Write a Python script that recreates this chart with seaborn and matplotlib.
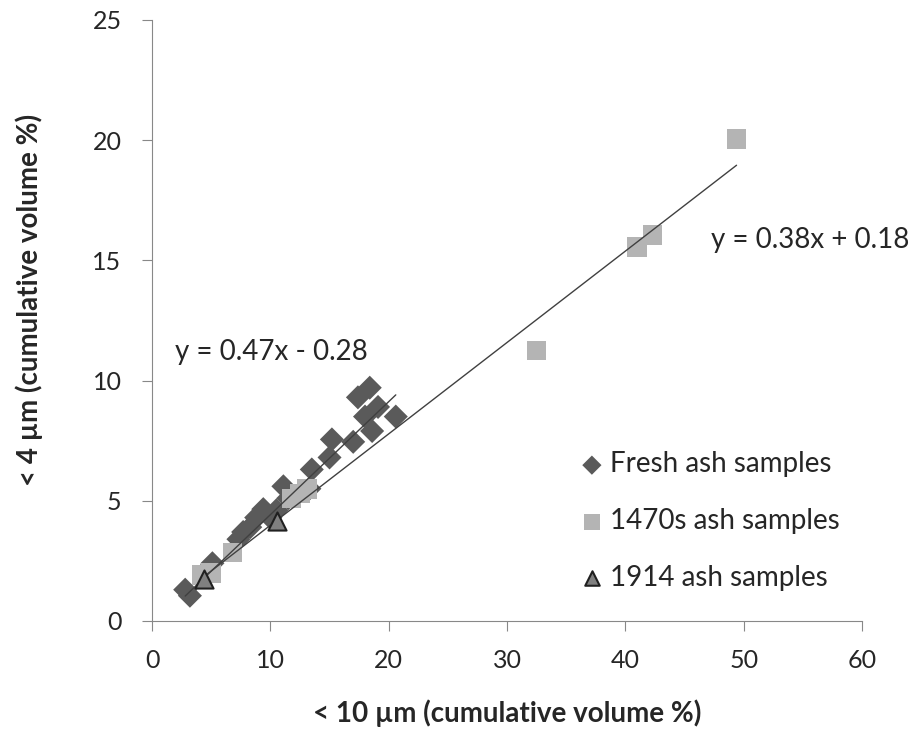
import matplotlib
matplotlib.use("Agg")
import matplotlib.pyplot as plt
import seaborn as sns
import numpy as np

# data
fresh_x = [2.8, 3.2, 4.6, 5.1, 7.3, 7.7, 8.3, 8.8, 9.4, 10.0, 10.5, 11.1, 11.5,
           13.3, 13.5, 15.0, 15.2, 17.0, 17.4, 18.0, 18.4, 18.6, 19.1, 20.6]
fresh_y = [1.3, 1.05, 2.1, 2.4, 3.4, 3.7, 3.9, 4.3, 4.65, 4.3, 4.6, 5.6, 5.1,
           5.5, 6.3, 6.8, 7.55, 7.45, 9.3, 8.5, 9.7, 7.9, 8.9, 8.5]
old_x = [4.2, 5.0, 6.8, 11.8, 12.5, 13.1, 32.5, 41.0, 42.3, 49.4]
old_y = [1.9, 2.0, 2.85, 5.1, 5.3, 5.5, 11.25, 15.55, 16.05, 20.05]
tri_x = [4.4, 10.6]
tri_y = [1.75, 4.15]

# trend lines as printed on the chart
fresh_fit = (0.47, -0.28)
old_fit = (0.38, 0.18)
fresh_label = "y = 0.47x - 0.28"
old_label = "y = 0.38x + 0.18"

sns.set_style("ticks")
plt.rcParams['font.family'] = ['Lato', 'DejaVu Sans']

fig = plt.figure(figsize=(9.16, 7.34), dpi=100)
ax = fig.add_axes([0.166, 0.154, 0.775, 0.819])

# fit lines over the data range of each series
fx = np.array([min(fresh_x), max(fresh_x)])
ox = np.array([min(old_x), max(old_x)])
sns.lineplot(x=fx, y=fresh_fit[0] * fx + fresh_fit[1], ax=ax, color="#404040",
             linewidth=1, zorder=4)
sns.lineplot(x=ox, y=old_fit[0] * ox + old_fit[1], ax=ax, color="#404040",
             linewidth=1, zorder=4)

sns.scatterplot(x=fresh_x, y=fresh_y, ax=ax, marker="D", s=150, color="#5a5a5a",
                edgecolor="none", label="Fresh ash samples", zorder=2)
sns.scatterplot(x=old_x, y=old_y, ax=ax, marker="s", s=200, color="#b4b4b4",
                edgecolor="none", label="1470s ash samples", zorder=3)
sns.scatterplot(x=tri_x, y=tri_y, ax=ax, marker="^", s=170, color="#808080",
                edgecolor="#202020", linewidth=1.5, label="1914 ash samples", zorder=5)

ax.text(1.9, 11.2, fresh_label, fontsize=20, va="center", ha="left")
ax.text(47.2, 15.85, old_label, fontsize=20, va="center", ha="left", clip_on=False)

ax.set_xlim(0, 60)
ax.set_ylim(0, 25)
ax.set_xticks(range(0, 61, 10))
ax.set_yticks(range(0, 26, 5))
ax.tick_params(labelsize=18, length=7, color="#888888")
ax.tick_params(axis="x", pad=13)
ax.tick_params(axis="y", pad=15)
for s in ["left", "bottom"]:
    ax.spines[s].set_color("#888888")
sns.despine(ax=ax)

ax.set_xlabel("< 10 µm (cumulative volume %)", fontsize=20, fontweight="bold")
ax.set_ylabel("< 4 µm (cumulative volume %)", fontsize=20, fontweight="bold")
ax.xaxis.set_label_coords(0.5, -0.131)
ax.yaxis.set_label_coords(-0.154, 0.534)

ax.legend(loc="upper left", bbox_to_anchor=(0.6, 0.282), frameon=False,
          fontsize=20, labelspacing=1.1, handletextpad=0.15, handlelength=1,
          borderpad=0, borderaxespad=0, markerscale=0.8)

fig.savefig("out.png", dpi=100)
